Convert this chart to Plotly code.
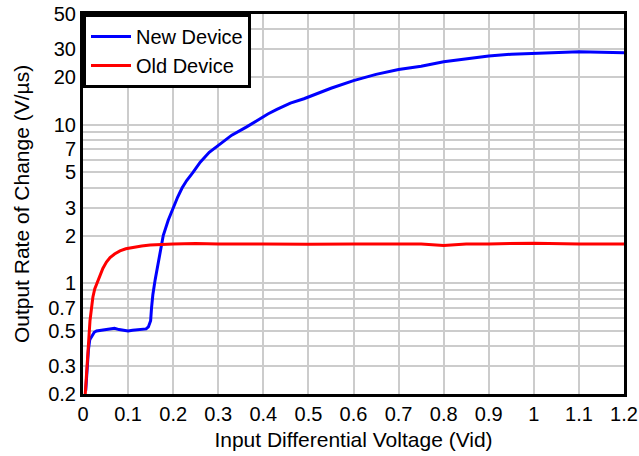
import plotly.graph_objects as go

new_x = [0.006, 0.008, 0.010, 0.012, 0.015, 0.020, 0.025, 0.030, 0.040, 0.050, 0.060, 0.070, 0.080, 0.090, 0.100, 0.110, 0.120, 0.130, 0.140, 0.145, 0.150, 0.152, 0.155, 0.160, 0.165, 0.170, 0.178, 0.189, 0.200, 0.210, 0.220, 0.230, 0.244, 0.260, 0.280, 0.304, 0.330, 0.363, 0.380, 0.410, 0.430, 0.460, 0.490, 0.520, 0.550, 0.600, 0.650, 0.700, 0.750, 0.800, 0.850, 0.900, 0.950, 1.000, 1.050, 1.100, 1.150, 1.200]
new_y = [0.21, 0.26, 0.32, 0.38, 0.44, 0.47, 0.49, 0.50, 0.505, 0.51, 0.51, 0.52, 0.51, 0.505, 0.50, 0.505, 0.51, 0.51, 0.515, 0.53, 0.58, 0.70, 0.85, 1.05, 1.25, 1.5, 2.0, 2.5, 3.0, 3.5, 4.0, 4.45, 5.0, 5.8, 6.7, 7.6, 8.6, 9.7, 10.4, 11.7, 12.5, 13.7, 14.6, 15.8, 17.0, 19.0, 20.8, 22.3, 23.4, 25.0, 26.0, 27.2, 27.9, 28.3, 28.5, 28.9, 28.7, 28.5]

old_x = [0.005, 0.008, 0.010, 0.013, 0.0155, 0.019, 0.022, 0.026, 0.030, 0.036, 0.044, 0.052, 0.060, 0.070, 0.082, 0.095, 0.111, 0.130, 0.149, 0.170, 0.200, 0.250, 0.300, 0.400, 0.500, 0.600, 0.700, 0.750, 0.800, 0.850, 0.900, 1.000, 1.100, 1.200]
old_y = [0.20, 0.28, 0.36, 0.47, 0.58, 0.70, 0.82, 0.92, 0.98, 1.10, 1.24, 1.36, 1.45, 1.53, 1.60, 1.65, 1.69, 1.72, 1.74, 1.76, 1.77, 1.78, 1.77, 1.77, 1.76, 1.77, 1.76, 1.77, 1.73, 1.77, 1.77, 1.79, 1.77, 1.77]

x_ticks = [0, 0.1, 0.2, 0.3, 0.4, 0.5, 0.6, 0.7, 0.8, 0.9, 1.0, 1.1, 1.2]
x_tick_text = ["0", "0.1", "0.2", "0.3", "0.4", "0.5", "0.6", "0.7", "0.8", "0.9", "1", "1.1", "1.2"]
y_ticks = [0.2, 0.3, 0.5, 0.7, 1, 2, 3, 5, 7, 10, 20, 30, 50]
y_tick_text = ["0.2", "0.3", "0.5", "0.7", "1", "2", "3", "5", "7", "10", "20", "30", "50"]
y_minor = [0.4, 0.6, 0.8, 0.9, 4, 6, 8, 9, 40]

fig = go.Figure()
fig.add_trace(go.Scatter(x=new_x, y=new_y, mode="lines", name="New Device",
                         line=dict(color="#0000ff", width=3)))
fig.add_trace(go.Scatter(x=old_x, y=old_y, mode="lines", name="Old Device",
                         line=dict(color="#ff0000", width=3)))

font_family = "Liberation Sans, Arial, sans-serif"
fig.update_layout(
    width=639, height=456,
    margin=dict(l=83, r=15, t=14, b=62, autoexpand=False),
    paper_bgcolor="white", plot_bgcolor="white",
    font=dict(family=font_family, size=20, color="black"),
    showlegend=True,
    legend=dict(x=0, y=1, xanchor="left", yanchor="top",
                bgcolor="white", bordercolor="black", borderwidth=3,
                font=dict(size=20), tracegroupgap=0,
                itemwidth=40),
)
fig.update_xaxes(
    range=[0, 1.2], tickvals=x_ticks, ticktext=x_tick_text,
    showgrid=True, gridcolor="#cccccc", gridwidth=1.5,
    showline=True, linecolor="black", linewidth=3, mirror=True,
    ticks="", zeroline=False, automargin=False,
    title=dict(text="Input Differential Voltage (Vid)", font=dict(size=21), standoff=9),
    tickfont=dict(size=20),
)
fig.update_yaxes(
    type="log", range=[-0.69897, 1.69897],
    tickvals=y_ticks, ticktext=y_tick_text,
    showgrid=True, gridcolor="#cccccc", gridwidth=1.5,
    minor=dict(tickvals=y_minor, showgrid=True, gridcolor="#cccccc", gridwidth=1.5, ticks=""),
    showline=True, linecolor="black", linewidth=3, mirror=True,
    ticks="", zeroline=False, automargin=False,
    title=dict(text="Output Rate of Change (V/\u00b5s)", font=dict(size=21), standoff=13),
    tickfont=dict(size=20),
)

fig.write_html("out.html", config={"displayModeBar": False},
               post_script="document.body.style.margin='0';")
